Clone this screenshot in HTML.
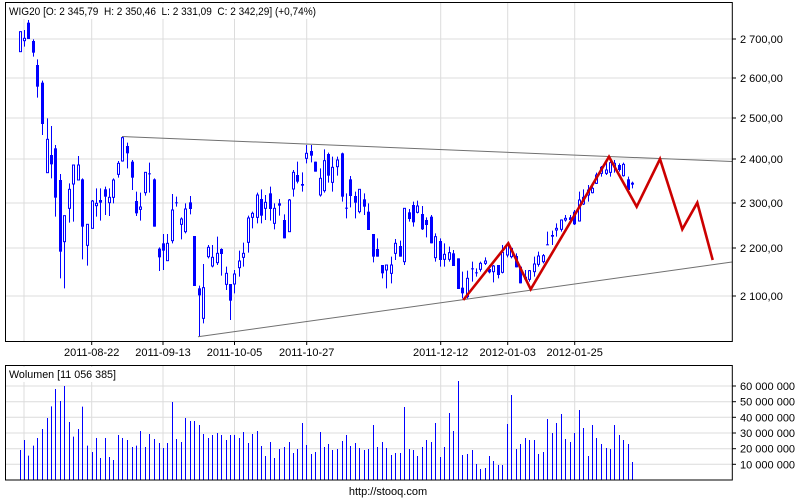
<!DOCTYPE html>
<html><head><meta charset="utf-8"><style>
html,body{margin:0;padding:0;background:#fff;width:800px;height:500px;overflow:hidden}
svg{display:block}
text{font-family:"Liberation Sans",sans-serif;font-size:11px;fill:#000}
</style></head><body>
<svg id="s" width="800" height="500" xmlns="http://www.w3.org/2000/svg"></svg>
<script>
var A=[[30,65,125,65,125,0],[43,85,92,60,110,0],[55,38,87,30,87,1],[70,93,128,88,140,1],[82,165,230,148,263,1],[97,218,342,212,375,1],[110,388,488,325,488,0],[123,435,463,348,505,1],[136,415,563,405,620,1],[150,510,725,492,805,1],[163,617,695,617,835,0],[177,538,595,520,638,0],[190,465,522,465,635,0],[205,465,510,438,510,0],[217,508,650,505,748,1],[232,643,706,643,767,0],[245,573,655,570,655,0],[258,580,587,535,620,0],[271,570,578,535,632,1],[284,538,560,530,615,1],[297,562,578,535,618,0],[310,510,562,505,580,0],[325,460,493,453,503,0],[337,383,453,378,455,0],[352,408,430,398,475,1],[365,455,503,450,540,1],[379,573,610,545,618,1],[391,591,598,548,632,0],[405,487,548,487,557,0],[418,490,493,458,548,1],[433,508,650,505,650,1],[446,716,742,712,783,1],[460,700,722,672,780,1],[472,700,752,672,752,0],[487,600,692,552,700,0],[499,577,580,560,590,1],[512,627,643,622,688,0],[526,597,665,580,670,0],[540,577,597,558,613,1],[553,678,828,678,828,1],[566,835,856,827,980,1],[580,833,925,762,940,0],[593,712,740,705,745,0],[607,742,768,705,772,0],[620,730,758,680,765,0],[634,717,732,715,797,1],[647,790,823,770,840,0],[661,822,872,822,930,1],[673,792,822,780,850,0],[688,753,773,722,800,0],[700,730,742,698,770,0],[715,624,697,617,728,0],[727,610,622,605,655,0],[740,555,622,548,640,0],[753,567,617,538,640,1],[766,577,595,555,630,0],[780,550,597,530,632,1],[793,595,640,580,658,0],[808,580,587,567,617,1],[821,630,685,613,685,1],[836,570,665,567,665,0],[848,487,537,480,560,0],[862,495,515,455,520,1],[875,522,527,487,545,1],[889,430,445,405,460,0],[902,423,437,405,457,1],[916,455,485,455,485,1],[930,505,555,475,560,0],[943,452,542,418,548,0],[955,432,497,428,518,1]];
var B=[[37,112,157,80,185,0],[52,90,110,80,137,0],[65,70,200,68,215,1],[78,233,236,190,265,1],[91,148,198,138,232,1],[105,198,218,185,265,1],[118,178,245,178,250,0],[132,208,230,190,255,1],[145,245,300,220,300,1],[160,312,380,312,397,1],[172,357,380,325,380,1],[186,405,430,405,445,1],[199,405,420,405,475,0],[213,405,430,380,460,0],[226,340,370,327,390,0],[240,348,380,332,380,1],[253,235,395,235,405,0],[266,247,267,237,275,1],[279,225,277,215,290,1],[292,228,247,212,250,0],[307,252,298,228,300,1],[319,270,285,262,322,1],[333,260,340,255,340,1],[346,320,383,310,395,0],[360,333,390,325,410,1],[373,373,388,340,410,0],[387,368,388,350,395,0],[400,370,408,360,408,1],[413,385,477,385,477,1],[427,473,490,425,505,1],[441,445,500,422,505,0],[455,415,418,395,455,1],[468,427,430,415,440,1],[480,400,418,395,425,0],[494,393,400,382,405,0],[508,417,427,405,430,1],[520,408,425,405,457,0],[534,405,435,405,445,1],[547,367,427,345,430,0],[561,345,375,338,382,0],[574,355,380,355,385,0],[587,378,412,370,412,1],[600,410,460,410,460,1],[614,440,448,420,450,1],[628,422,448,420,455,0],[641,402,425,380,440,0],[654,378,403,365,410,0],[668,377,395,372,400,0],[682,343,346,305,345,1],[696,315,320,302,345,1],[708,295,300,280,320,0],[722,270,298,268,305,0],[736,265,270,255,275,0],[749,262,270,255,275,1],[762,245,283,240,285,1],[776,210,273,185,275,0],[789,202,222,178,225,0],[803,180,195,165,215,0],[815,175,188,160,190,0],[829,135,160,128,162,0],[843,112,130,108,140,0],[857,120,130,90,135,0],[870,98,127,88,140,0],[883,100,110,90,128,0],[897,105,120,100,125,1],[910,103,137,98,140,0],[924,148,180,140,185,1],[937,158,164,155,175,1]];
var V1=[258,228,275,245,222,195,162,127,75,111,66,174,218,195,128,245,264,222,282,222,279,288,213,222,228,249,245,201,249,210,225,237,252,237,114,225,234,162,171,171,183,210,222,213,207,213,228,213,213,222,204,237,210,201,246,276,234,282,255,249,234,267,255,177,243,270,264,204,249,240];
var V2=[258,255,231,213,246,237,252,258,255,183,249,234,252,273,267,267,129,255,258,276,249,228,234,177,279,249,147,201,51,273,270,258,300,315,312,276,291,303,303,180,93,255,240,222,228,228,270,264,165,207,177,150,225,234,207,138,192,276,183,222,240,252,255,183,213,228,240,294];
var o='';
function L(x1,y1,x2,y2,c,w){o+='<line x1="'+x1+'" y1="'+y1+'" x2="'+x2+'" y2="'+y2+'" stroke="'+c+'" stroke-width="'+(w||1)+'"/>';}
function T(x,y,t,a,tl){o+='<text x="'+x+'" y="'+y+'"'+(a?' text-anchor="'+a+'"':'')+(tl?' textLength="'+tl+'" lengthAdjust="spacingAndGlyphs"':'')+'>'+t+'</text>';}
var gx=[24,91.7,163,234.5,306.7,440.7,507.7,574.7];
var gy=[[39,'2 700,00'],[78,'2 600,00'],[118,'2 500,00'],[159,'2 400,00'],[203,'2 300,00'],[248,'2 200,00'],[296,'2 100,00']];
gx.forEach(function(x){L(x,2,x,341.5,'#dcdcdc');L(x,365,x,480,'#dcdcdc');});
gy.forEach(function(g){L(6,g[0],732,g[0],'#dcdcdc');L(732,g[0],736,g[0],'#000');T(740,g[0]+4,g[1]);});
var vy=[[386,'60 000 000'],[401.7,'50 000 000'],[417.3,'40 000 000'],[433,'30 000 000'],[448.7,'20 000 000'],[464.3,'10 000 000']];
vy.forEach(function(g){L(6,g[0],732,g[0],'#dcdcdc');L(732,g[0],736,g[0],'#000');T(740,g[0]+4,g[1]);});
var dl=[[91.7,'2011-08-22'],[163,'2011-09-13'],[234.5,'2011-10-05'],[306.7,'2011-10-27'],[440.7,'2011-12-12'],[507.7,'2012-01-03'],[574.7,'2012-01-25']];
dl.forEach(function(d){L(d[0],341.5,d[0],345,'#000');T(d[0],356,d[1],'middle');});
function C(c,ox,oy){var x=Math.round(ox+c[0]/3)+0.5,bt=oy+c[1]/3,bb=oy+c[2]/3,wt=oy+c[3]/3,wb=oy+c[4]/3;
 L(x,wt,x,wb,'#0000ff');var h=Math.max(bb-bt,1);
 if(c[5])o+='<rect x="'+(x-1.5)+'" y="'+bt+'" width="3" height="'+h+'" fill="#0000ff"/>';
 else o+='<rect x="'+(x-1)+'" y="'+bt+'" width="2" height="'+h+'" fill="#fff" stroke="#0000ff" stroke-width="1"/>';}
A.forEach(function(c){C(c,10,10);});B.forEach(function(c){C(c,320,130);});
var xs=A.map(function(c){return Math.round(10+c[0]/3)+0.5;}).concat(B.map(function(c){return Math.round(320+c[0]/3)+0.5;}));
V1.concat(V2).forEach(function(t,i){if(xs[i])L(xs[i],480,xs[i],364+t/3,'#0000ff');});
L(122,136.5,732,161.5,'#707070');L(198,336.7,732,262,'#707070');
o+='<polyline points="463.3,300 508.3,243.3 530.7,289.3 609,156.7 636.7,206.7 660,159 682.3,229.3 697.3,202.7 712.7,260" fill="none" stroke="#cc0000" stroke-width="2.6" stroke-linejoin="miter"/>';
o+='<rect x="5.5" y="2.5" width="726.8" height="339" fill="none" stroke="#000"/>';
o+='<rect x="5.5" y="365.5" width="726.8" height="114.5" fill="none" stroke="#000"/>';
o+='<rect x="7" y="4" width="312" height="15" fill="#fff"/>';
T(9,15,'WIG20 [O: 2 345,79&#160; H: 2 350,46&#160; L: 2 331,09&#160; C: 2 342,29] (+0,74%)',null,307);
o+='<rect x="7" y="367" width="112" height="15" fill="#fff"/>';
T(9,378,'Wolumen [11 056 385]',null,107);
T(388,495,'http://stooq.com','middle');
document.getElementById('s').innerHTML=o;
</script>
</body></html>
